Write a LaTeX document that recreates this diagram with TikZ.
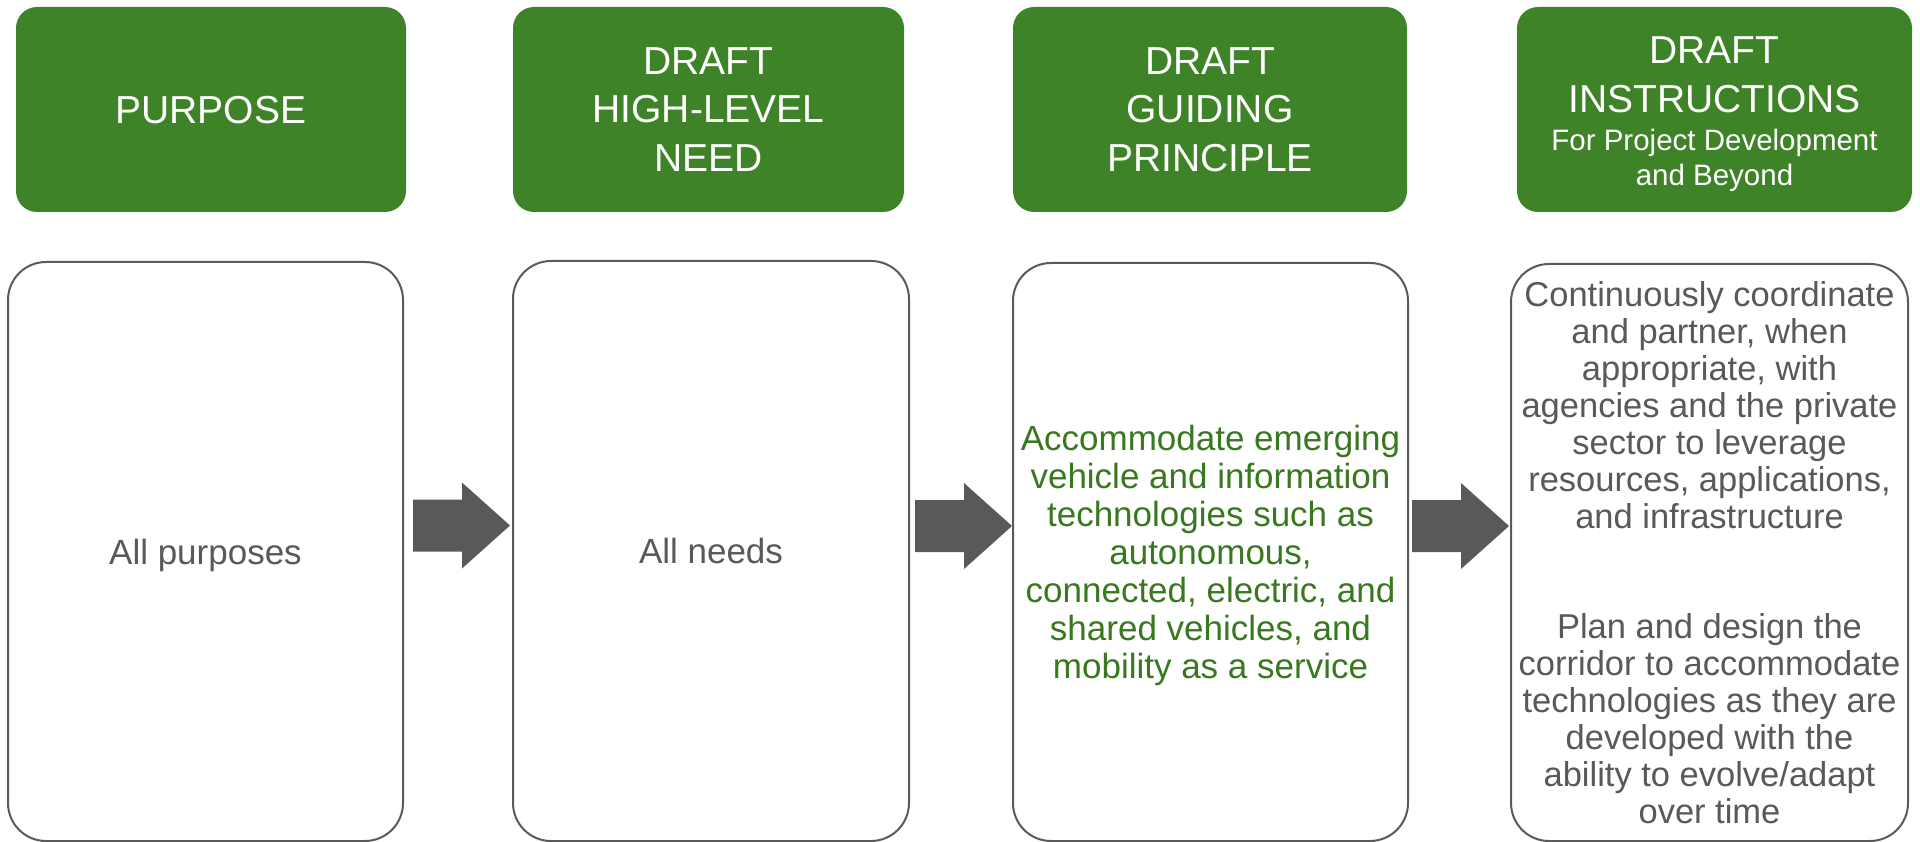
\documentclass[tikz,border=0pt]{standalone}
\usepackage{fontspec}
\setmainfont{Liberation Sans}
\usetikzlibrary{calc}
\definecolor{hdrgreen}{RGB}{62,131,39}
\definecolor{txtgreen}{RGB}{56,120,30}
\definecolor{txtgray}{RGB}{89,89,89}
\definecolor{boxgray}{RGB}{90,90,90}
\definecolor{arrowgray}{RGB}{88,89,91}
\begin{document}
\begin{tikzpicture}[x=1pt,y=-1pt,
  hdr/.style={fill=hdrgreen, rounded corners=21pt, inner sep=0pt, text=white, align=center,
    font=\fontsize{39}{48.5}\selectfont, minimum height=205pt, text depth=0pt},
  hdrtext/.style={inner sep=0pt, text=white, align=center},
  bodybox/.style={draw=boxgray, line width=2pt, rounded corners=38pt, fill=white,
    minimum height=579pt, inner sep=0pt, align=center, text=txtgray,
    font=\fontsize{35}{42}\selectfont, text depth=0pt},
  flow/.style={fill=arrowgray}]
\useasboundingbox (0,0) rectangle (1920,842);

% header boxes
\node[hdr, minimum width=390pt] (h1) at (211,109.5) {PURPOSE};
\node[hdr, minimum width=391pt] (h2) at (708.5,109.5) {DRAFT\\HIGH-LEVEL\\NEED};
\node[hdr, minimum width=394pt] (h3) at (1210,109.5) {DRAFT\\GUIDING\\PRINCIPLE};
\node[hdr, minimum width=395pt] (h4) at (1714.5,109.5) {};
\node[hdrtext, font=\fontsize{39}{49}\selectfont] (h4t) at (1714.5,74.5) {DRAFT\\INSTRUCTIONS};
\node[hdrtext, font=\fontsize{29.5}{35}\selectfont] (h4s) at (1714.5,160.5) {For Project Development\\and Beyond};

% body boxes
\node[bodybox, minimum width=395pt] (b1) at (205.5,551.5) {All purposes};
\node[bodybox, minimum width=396pt, minimum height=580pt] (b2) at (711,551) {All needs};
\node[bodybox, minimum width=395pt, minimum height=578pt, text=txtgreen,
      font=\fontsize{35}{38}\selectfont] (b3) at (1210.5,552)
  {Accommodate emerging\\vehicle and information\\technologies such as\\autonomous,\\connected, electric, and\\shared vehicles, and\\mobility as a service};
\node[bodybox, minimum width=397pt, minimum height=577pt,
      font=\fontsize{34.5}{36.9}\selectfont] (b4) at (1709.5,552.5)
  {Continuously coordinate\\and partner, when\\appropriate, with\\agencies and the private\\sector to leverage\\resources, applications,\\and infrastructure\\[73.8pt]Plan and design the\\corridor to accommodate\\technologies as they are\\developed with the\\ability to evolve/adapt\\over time};

% arrows
\coordinate (t1) at ($(b2.west)+(-2,-25.5)$);
\coordinate (t2) at ($(b3.west)+(0,-26)$);
\coordinate (t3) at ($(b4.west)+(-1,-26.5)$);
\foreach \t in {t1,t2,t3}{
  \fill[flow] (\t) -- ++(-48,-43) -- ++(0,17) -- ++(-49,0) -- ++(0,52) -- ++(49,0) -- ++(0,17) -- cycle;
}
\end{tikzpicture}
\end{document}
